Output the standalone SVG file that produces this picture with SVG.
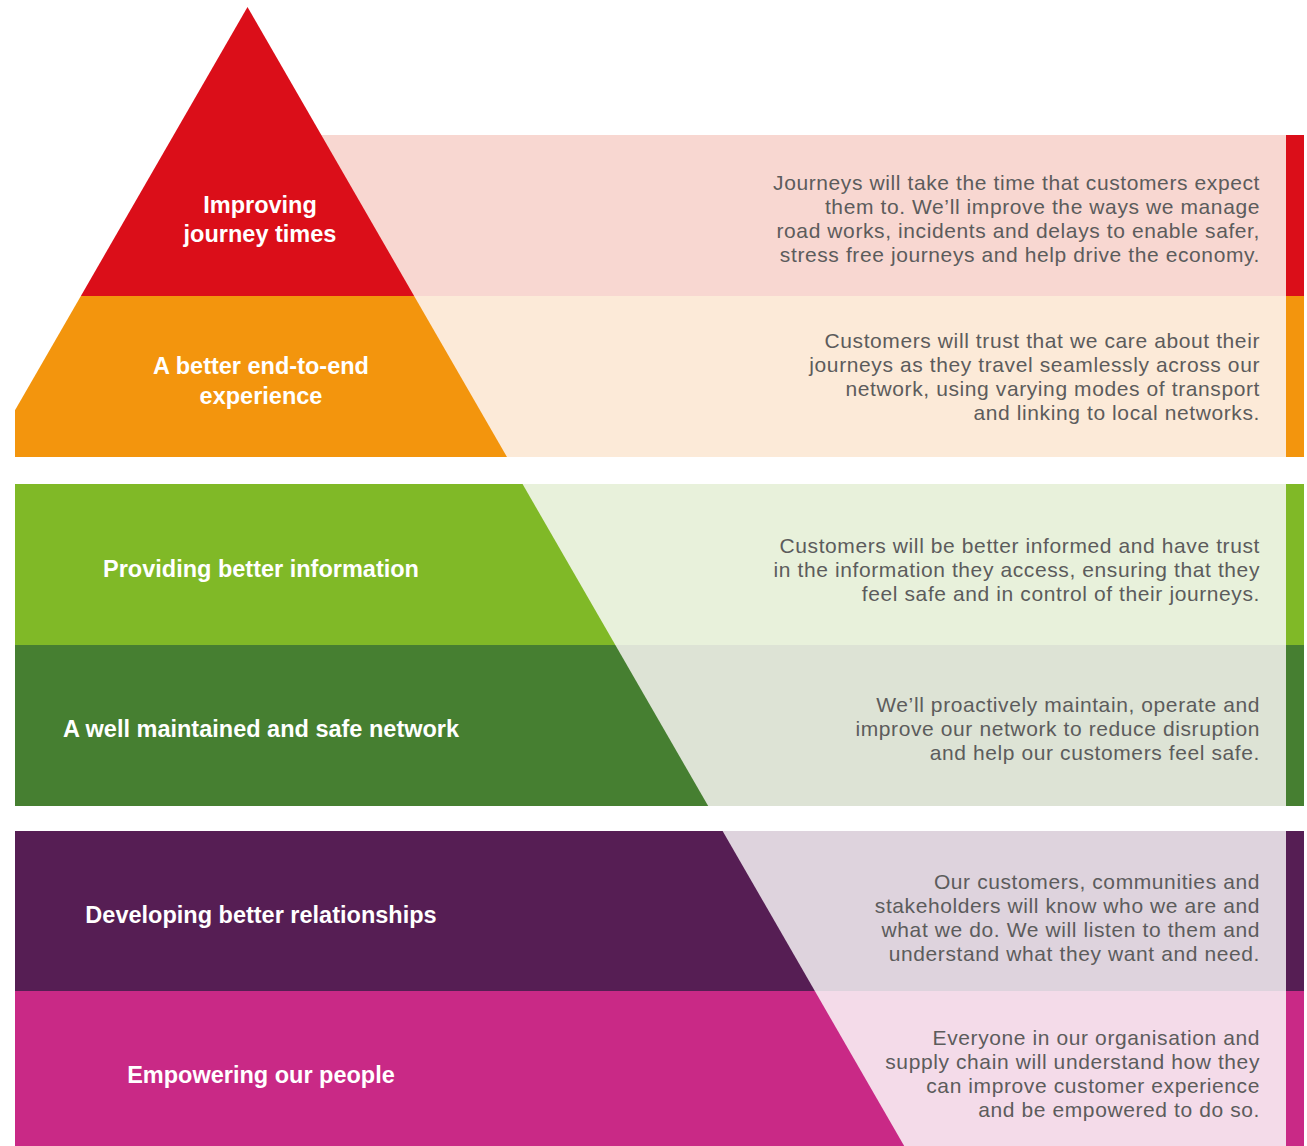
<svg xmlns="http://www.w3.org/2000/svg" width="1307" height="1146" viewBox="0 0 1307 1146">
  <defs>
    <style>
      .title { font-family: "Liberation Sans", Arial, sans-serif; font-weight: bold; font-size: 23.5px; fill: #ffffff; text-anchor: middle; }
      .desc { font-family: "Liberation Sans", Arial, sans-serif; font-size: 21px; letter-spacing: 0.6px; fill: #5c5c5c; text-anchor: end; }
    </style>
    <!-- the pyramid outline; every tier's colour block is cut to it -->
    <clipPath id="pyrClip">
      <polygon points="247.5,7 904.2,1146 -409.2,1146"/>
    </clipPath>
  </defs>
  <rect width="1307" height="1146" fill="#ffffff"/>

  <!-- tier 1: journey times -->
  <g id="tier-journey-times">
    <rect x="320" y="135" width="966" height="161" fill="#F8D7D1"/>
    <rect x="1286" y="135" width="18" height="161" fill="#DB0E19"/>
    <rect x="15" y="0" width="900" height="296" fill="#DB0E19" clip-path="url(#pyrClip)"/>
    <text class="title" x="260" y="213">Improving</text>
    <text class="title" x="260" y="242">journey times</text>
    <text class="desc" x="1260" y="190">Journeys will take the time that customers expect</text>
    <text class="desc" x="1260" y="214">them to. We’ll improve the ways we manage</text>
    <text class="desc" x="1260" y="238">road works, incidents and delays to enable safer,</text>
    <text class="desc" x="1260" y="262">stress free journeys and help drive the economy.</text>
  </g>

  <!-- tier 2: end-to-end experience -->
  <g id="tier-end-to-end">
    <rect x="400" y="296" width="886" height="161" fill="#FCEAD8"/>
    <rect x="1286" y="296" width="18" height="161" fill="#F3950D"/>
    <rect x="15" y="296" width="900" height="161" fill="#F3950D" clip-path="url(#pyrClip)"/>
    <text class="title" x="261" y="374">A better end-to-end</text>
    <text class="title" x="261" y="404">experience</text>
    <text class="desc" x="1260" y="348">Customers will trust that we care about their</text>
    <text class="desc" x="1260" y="372">journeys as they travel seamlessly across our</text>
    <text class="desc" x="1260" y="396">network, using varying modes of transport</text>
    <text class="desc" x="1260" y="420">and linking to local networks.</text>
  </g>

  <!-- tier 3: better information -->
  <g id="tier-information">
    <rect x="15" y="484" width="1271" height="161" fill="#E8F1DB"/>
    <rect x="1286" y="484" width="18" height="161" fill="#80B927"/>
    <rect x="15" y="484" width="900" height="161" fill="#80B927" clip-path="url(#pyrClip)"/>
    <text class="title" x="261" y="577">Providing better information</text>
    <text class="desc" x="1260" y="553">Customers will be better informed and have trust</text>
    <text class="desc" x="1260" y="577">in the information they access, ensuring that they</text>
    <text class="desc" x="1260" y="601">feel safe and in control of their journeys.</text>
  </g>

  <!-- tier 4: maintained and safe network -->
  <g id="tier-safe-network">
    <rect x="15" y="645" width="1271" height="161" fill="#DDE3D5"/>
    <rect x="1286" y="645" width="18" height="161" fill="#467F31"/>
    <rect x="15" y="645" width="900" height="161" fill="#467F31" clip-path="url(#pyrClip)"/>
    <text class="title" x="261" y="737">A well maintained and safe network</text>
    <text class="desc" x="1260" y="712">We’ll proactively maintain, operate and</text>
    <text class="desc" x="1260" y="736">improve our network to reduce disruption</text>
    <text class="desc" x="1260" y="760">and help our customers feel safe.</text>
  </g>

  <!-- tier 5: relationships -->
  <g id="tier-relationships">
    <rect x="15" y="831" width="1271" height="160" fill="#DED3DD"/>
    <rect x="1286" y="831" width="18" height="160" fill="#561E54"/>
    <rect x="15" y="831" width="900" height="160" fill="#561E54" clip-path="url(#pyrClip)"/>
    <text class="title" x="261" y="923">Developing better relationships</text>
    <text class="desc" x="1260" y="889">Our customers, communities and</text>
    <text class="desc" x="1260" y="913">stakeholders will know who we are and</text>
    <text class="desc" x="1260" y="937">what we do. We will listen to them and</text>
    <text class="desc" x="1260" y="961">understand what they want and need.</text>
  </g>

  <!-- tier 6: our people -->
  <g id="tier-people">
    <rect x="15" y="991" width="1271" height="155" fill="#F4DBE9"/>
    <rect x="1286" y="991" width="18" height="155" fill="#C92986"/>
    <rect x="15" y="991" width="900" height="155" fill="#C92986" clip-path="url(#pyrClip)"/>
    <text class="title" x="261" y="1083">Empowering our people</text>
    <text class="desc" x="1260" y="1045">Everyone in our organisation and</text>
    <text class="desc" x="1260" y="1069">supply chain will understand how they</text>
    <text class="desc" x="1260" y="1093">can improve customer experience</text>
    <text class="desc" x="1260" y="1117">and be empowered to do so.</text>
  </g>
</svg>
